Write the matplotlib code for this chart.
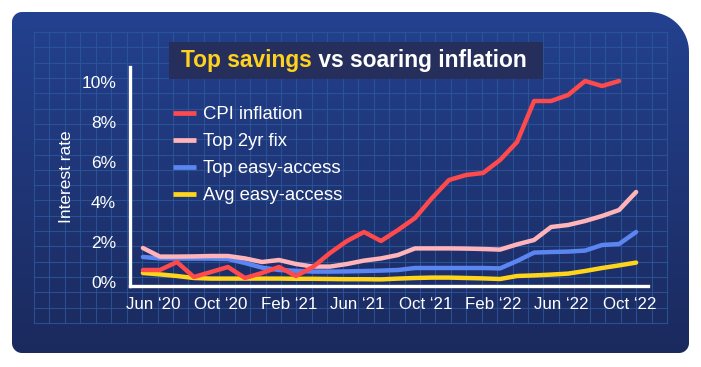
import numpy as np
import matplotlib
matplotlib.use("Agg")
import matplotlib.pyplot as plt
from matplotlib.path import Path
from matplotlib.patches import PathPatch, Rectangle
from matplotlib.colors import LinearSegmentedColormap

plt.rcParams["font.family"] = ["Liberation Sans", "DejaVu Sans"]

# monthly points, May 2020 -> Oct 2022
months = list(range(30))
tick_idx = [1, 5, 9, 13, 17, 21, 25, 29]
tick_labels = ["Jun \u201820", "Oct \u201820", "Feb \u201821", "Jun \u201821",
               "Oct \u201821", "Feb \u201822", "Jun \u201822", "Oct \u201822"]

cpi = [0.6, 0.6, 1.0, 0.25, 0.5, 0.75, 0.2, 0.45, 0.75, 0.3,
       0.75, 1.45, 2.05, 2.5, 2.05, 2.6, 3.2, 4.2, 5.1, 5.35,
       5.45, 6.1, 7.0, 9.05, 9.05, 9.35, 10.05, 9.8, 10.05]
fix2 = [1.7, 1.27, 1.27, 1.28, 1.3, 1.3, 1.18, 1.0, 1.1, 0.9,
        0.77, 0.77, 0.9, 1.07, 1.18, 1.35, 1.68, 1.68, 1.68, 1.67,
        1.65, 1.62, 1.88, 2.1, 2.75, 2.85, 3.05, 3.3, 3.6, 4.5]
easy = [1.25, 1.18, 1.17, 1.17, 1.17, 1.15, 0.95, 0.72, 0.6, 0.56,
        0.52, 0.52, 0.53, 0.55, 0.57, 0.6, 0.7, 0.7, 0.7, 0.7,
        0.7, 0.68, 1.05, 1.47, 1.5, 1.52, 1.57, 1.85, 1.9, 2.5]
avg_easy = [0.45, 0.38, 0.3, 0.2, 0.17, 0.17, 0.17, 0.17, 0.17, 0.16,
            0.16, 0.15, 0.14, 0.14, 0.13, 0.17, 0.2, 0.22, 0.22, 0.2,
            0.18, 0.15, 0.3, 0.33, 0.37, 0.42, 0.55, 0.7, 0.83, 0.97]

W, H = 701, 367
fig = plt.figure(figsize=(W / 100, H / 100), dpi=100)
fig.patch.set_facecolor("white")

# background panel (pixel coords)
bg = fig.add_axes([0, 0, 1, 1])
bg.set_xlim(0, W)
bg.set_ylim(H, 0)
bg.axis("off")


def corner(cx, cy, r, a0, a1):
    t = np.radians(np.linspace(a0, a1, 20))
    return np.column_stack([cx + r * np.cos(t), cy - r * np.sin(t)])


x0, y0, x1, y1 = 12, 12, 689, 353
r_tl, r_tr, r_br, r_bl = 10, 40, 10, 10
pts = np.vstack([
    corner(x0 + r_tl, y0 + r_tl, r_tl, 180, 90),
    corner(x1 - r_tr, y0 + r_tr, r_tr, 90, 0),
    corner(x1 - r_br, y1 - r_br, r_br, 0, -90),
    corner(x0 + r_bl, y1 - r_bl, r_bl, -90, -180),
])
panel = PathPatch(Path(np.vstack([pts, pts[:1]]), closed=True), facecolor="none", edgecolor="none")
bg.add_patch(panel)
cmap = LinearSegmentedColormap.from_list("bg", ["#23418f", "#1b2a5e"])
grad = np.linspace(0, 1, 256).reshape(-1, 1)
im = bg.imshow(grad, extent=(x0, x1, y1, y0), aspect="auto", cmap=cmap, zorder=0)
im.set_clip_path(panel)

# blueprint grid
gx = np.linspace(34, 667, 42)
gy = np.linspace(32, 323, 20)
for x in gx:
    bg.plot([x, x], [gy[0], gy[-1]], color="#2c5699", lw=0.8, alpha=0.85, zorder=1)
for y in gy:
    bg.plot([gx[0], gx[-1]], [y, y], color="#2c5699", lw=0.8, alpha=0.85, zorder=1)

# title box
bg.add_patch(Rectangle((169, 42), 374, 37, facecolor="#262f5b", edgecolor="none", zorder=2))
t1 = bg.text(181, 61, "Top savings", color="#ffd21f", fontsize=16.4, fontweight="bold",
             va="center", ha="left", zorder=3)
bg.annotate(" vs soaring inflation", xy=(1, 0), xycoords=t1, va="bottom", ha="left",
            color="white", fontsize=16.4, fontweight="bold", zorder=3)

# main chart
ax = fig.add_axes([130 / W, (H - 286) / H, 518 / W, 219 / H])
ax.patch.set_alpha(0)

lw = 3.2
l_avg, = ax.plot(months, avg_easy, color="#ffd51c", lw=lw, solid_capstyle="round", label="Avg easy-access")
l_easy, = ax.plot(months, easy, color="#5b86f2", lw=lw, solid_capstyle="round", label="Top easy-access")
l_fix, = ax.plot(months, fix2, color="#ffb4b9", lw=lw, solid_capstyle="round", label="Top 2yr fix")
l_cpi, = ax.plot(months[:len(cpi)], cpi, color="#ff4a4d", lw=lw, solid_capstyle="round", label="CPI inflation")

ax.set_xlim(-0.76, 29.7)
ax.set_ylim(-0.2, 10.75)

for s in ["top", "right"]:
    ax.spines[s].set_visible(False)
for s in ["left", "bottom"]:
    ax.spines[s].set_color("white")
    ax.spines[s].set_linewidth(2.4)

ax.set_yticks([0, 2, 4, 6, 8, 10])
ax.set_yticklabels([f"{v}%" for v in [0, 2, 4, 6, 8, 10]])
ax.set_xticks([i - 0.4 for i in tick_idx])
ax.set_xticklabels(tick_labels)
ax.tick_params(axis="both", length=0, colors="white", labelsize=12.2)
ax.tick_params(axis="y", pad=10, labelsize=12.5)
ax.tick_params(axis="x", pad=8)

ax.set_ylabel("Interest rate", color="white", fontsize=12.5)
ax.yaxis.set_label_coords((74 - 130) / 518, 0.5)

leg = ax.legend(handles=[l_cpi, l_fix, l_easy, l_avg], loc="upper left",
                bbox_to_anchor=(173 / W, 1 - 106 / H), bbox_transform=fig.transFigure,
                frameon=False, fontsize=13.3, handlelength=1.25, handletextpad=0.35,
                labelspacing=0.55, borderpad=0, borderaxespad=0)
for txt in leg.get_texts():
    txt.set_color("white")
for h in leg.legend_handles:
    h.set_linewidth(3.4)
    h.set_solid_capstyle("butt")

fig.savefig("out.png", dpi=100, facecolor=fig.get_facecolor())
